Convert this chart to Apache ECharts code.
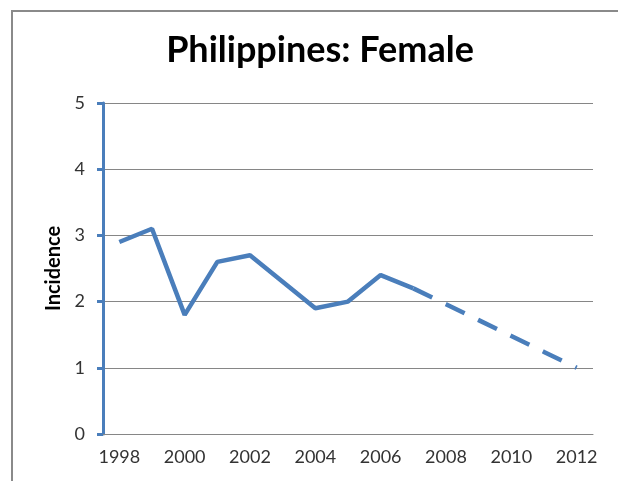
<!DOCTYPE html>
<html>
<head>
<meta charset="utf-8">
<script src="https://cdn.jsdelivr.net/npm/echarts@6/dist/echarts.min.js"></script>
<style>
  html, body { margin: 0; padding: 0; background: #fff; }
  #chart { width: 618px; height: 481px; }
</style>
</head>
<body>
<div id="chart"></div>
<script>
// years on the x axis
const years = ['1998', '1999', '2000', '2001', '2002', '2003', '2004', '2005',
  '2006', '2007', '2008', '2009', '2010', '2011', '2012']
// observed incidence 1998-2007 (solid)
const observed = [2.9, 3.1, 1.8, 2.6, 2.7, 2.3, 1.9, 2.0, 2.4, 2.2]
// projected incidence 2007-2012 (dashed)
const projected = [2.2, 1.96, 1.72, 1.48, 1.24, 1.0]

const blue = '#4A7EBB'
const grey = '#868686'

let solidData = years.map((_, i) => (i < observed.length ? observed[i] : null))
let startIdx = years.length - projected.length
let dashData = years.map((_, i) => (i >= startIdx ? projected[i - startIdx] : null))

let chart = echarts.init(document.getElementById('chart'))

let option = {
  animation: false,
  title: {
    text: 'Philippines: Female',
    left: 315,
    top: 27,
    textAlign: 'center',
    textStyle: {
      fontFamily: 'Lato',
      fontWeight: 'bold',
      fontSize: 36,
      color: '#000',
    },
  },
  graphic: [
    {
      type: 'polyline',
      shape: { points: [[12, 481], [12, 11], [618, 11]] },
      style: { stroke: '#8a8a8a', lineWidth: 2, fill: null },
      silent: true,
    },
  ],
  grid: {
    left: 103,
    right: 25,
    top: 103,
    bottom: 47,
    containLabel: false,
  },
  xAxis: {
    type: 'category',
    data: years,
    boundaryGap: true,
    axisLine: { lineStyle: { color: grey, width: 1 } },
    axisTick: {
      interval: 0,
      length: 6,
      lineStyle: { color: grey, width: 1 },
    },
    axisLabel: {
      interval: 1,
      margin: 14,
      fontFamily: 'Lato',
      fontSize: 18,
      color: '#333',
    },
    splitLine: { show: false },
  },
  yAxis: {
    type: 'value',
    min: 0,
    max: 5,
    interval: 1,
    name: 'Incidence',
    nameLocation: 'middle',
    nameGap: 38,
    nameTextStyle: {
      fontFamily: 'Lato',
      fontWeight: 'bold',
      fontSize: 20,
      color: '#000',
    },
    axisLine: { show: true, lineStyle: { color: blue, width: 3 } },
    axisTick: { show: true, length: 6, lineStyle: { color: blue, width: 3 } },
    axisLabel: {
      margin: 18,
      fontFamily: 'Lato',
      fontSize: 18,
      color: '#333',
    },
    splitLine: { lineStyle: { color: grey, width: 1 } },
  },
  series: [
    {
      type: 'line',
      data: solidData,
      showSymbol: false,
      symbol: 'none',
      lineStyle: { color: blue, width: 4.5 },
      z: 3,
    },
    {
      type: 'line',
      data: dashData,
      showSymbol: false,
      symbol: 'none',
      lineStyle: { color: blue, width: 4.5, type: [21, 15] },
      z: 3,
    },
  ],
}

chart.setOption(option)
</script>
</body>
</html>
